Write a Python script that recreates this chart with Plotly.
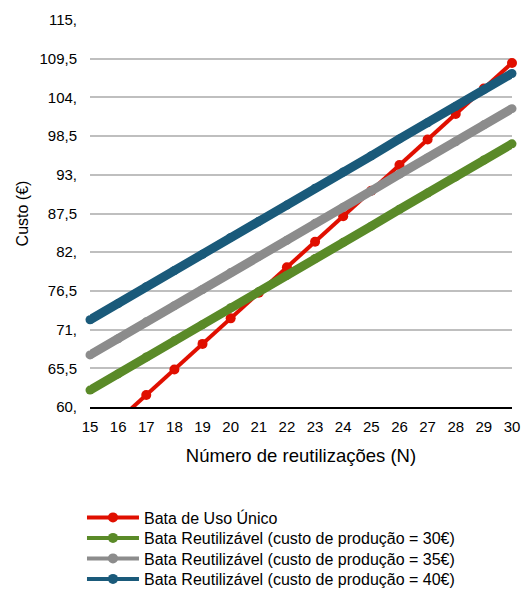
import plotly.graph_objects as go

# Number of reuses (N)
n_reuses = list(range(15, 31))

# Cost (€) of each gown option
single_use = [54.45, 58.08, 61.71, 65.34, 68.97, 72.60, 76.23, 79.86,
              83.49, 87.12, 90.75, 94.38, 98.01, 101.64, 105.27, 108.90]
reusable_30 = [62.4, 64.7, 67.1, 69.4, 71.7, 74.1, 76.4, 78.7,
               81.1, 83.4, 85.7, 88.1, 90.4, 92.7, 95.1, 97.4]
reusable_35 = [67.4, 69.7, 72.1, 74.4, 76.7, 79.1, 81.4, 83.7,
               86.1, 88.4, 90.7, 93.1, 95.4, 97.7, 100.1, 102.4]
reusable_40 = [72.4, 74.7, 77.1, 79.4, 81.7, 84.1, 86.4, 88.7,
               91.1, 93.4, 95.7, 98.1, 100.4, 102.7, 105.1, 107.4]

series_names = [
    "Bata de Uso Único",
    "Bata Reutilizável (custo de produção = 30€)",
    "Bata Reutilizável (custo de produção = 35€)",
    "Bata Reutilizável (custo de produção = 40€)",
]

y_tick_values = [60, 65.5, 71, 76.5, 82, 87.5, 93, 98.5, 104, 109.5, 115]
y_tick_labels = ["60,", "65,5", "71,", "76,5", "82,", "87,5", "93,",
                 "98,5", "104,", "109,5", "115,"]

colors = ["#e00f00", "#5a8a28", "#8c8c8c", "#1a5a7a"]
widths = [4, 9, 9, 9]
marker_sizes = [10, 9, 9, 9]

# one single-row legend per series so rows sit closer together
legend_ids = ["legend", "legend2", "legend3", "legend4"]
legend_tops = [-0.2416, -0.2946, -0.3475, -0.4005]

fig = go.Figure()
for name, ys, c, w, ms in zip(series_names,
                              [single_use, reusable_30, reusable_35, reusable_40],
                              colors, widths, marker_sizes):
    fig.add_trace(go.Scatter(
        x=n_reuses, y=ys, name=name, mode="lines+markers",
        line=dict(color=c, width=w),
        marker=dict(color=c, size=ms),
        cliponaxis=False, showlegend=False, legendgroup=name,
    ))

# Legend keys: same colours with a uniform thin line and a dot
for name, c, lid in zip(series_names, colors, legend_ids):
    fig.add_trace(go.Scatter(
        x=[None], y=[None], name=name, mode="lines+markers",
        line=dict(color=c, width=4), marker=dict(color=c, size=10),
        legendgroup=name, showlegend=True, legend=lid,
    ))

legend_style = dict(
    x=-0.019, xanchor="left", yanchor="top",
    font=dict(size=16), tracegroupgap=0, itemwidth=52,
    bgcolor="rgba(0,0,0,0)",
)

fig.update_layout(
    width=523, height=590,
    margin=dict(l=90, r=11, t=20, b=183, autoexpand=False),
    paper_bgcolor="white", plot_bgcolor="white",
    font=dict(family="Liberation Sans, Arial, sans-serif", size=15, color="#000000"),
    showlegend=True,
    xaxis=dict(
        range=[15, 30], tickmode="array", tickvals=n_reuses,
        showgrid=False, zeroline=False,
        showline=True, linecolor="#000000", linewidth=2,
        ticks="", ticklen=0, ticklabelstandoff=5,
        title=dict(text="Número de reutilizações (N)", font=dict(size=18.5), standoff=15),
        tickfont=dict(size=15),
    ),
    yaxis=dict(
        range=[60, 115], tickmode="array",
        tickvals=y_tick_values, ticktext=y_tick_labels,
        showgrid=True, gridcolor="#bfbfbf", gridwidth=2,
        zeroline=False, showline=False, ticks="", ticklabelstandoff=12,
        title=dict(text="Custo (€)", font=dict(size=16), standoff=6),
        tickfont=dict(size=15),
    ),
)
for lid, top in zip(legend_ids, legend_tops):
    fig.update_layout({lid: dict(legend_style, y=top)})

fig.write_html("out.html")
